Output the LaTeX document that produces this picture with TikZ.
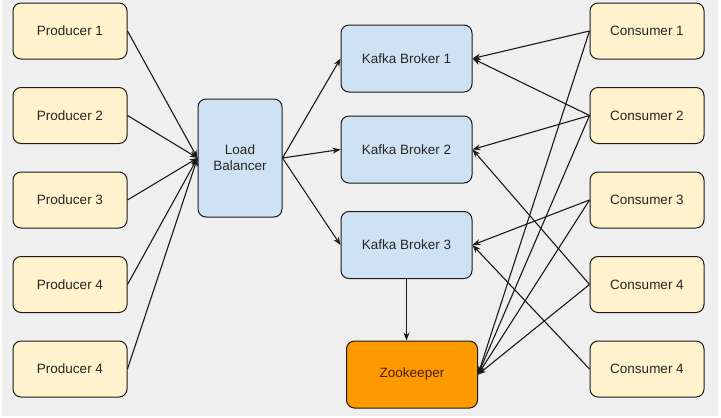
\documentclass[tikz,border=0pt]{standalone}
\usepackage{fontspec}
\setmainfont{Liberation Sans}
\usetikzlibrary{arrows.meta}
\definecolor{bgcol}{HTML}{EFEFEF}
\definecolor{linecol}{HTML}{1A1A1A}
\definecolor{prodfill}{HTML}{FFF2CC}
\definecolor{brokerfill}{HTML}{CFE2F3}
\definecolor{zkfill}{HTML}{FF9900}
\definecolor{zktext}{HTML}{4A1E00}
\begin{document}
\begin{tikzpicture}[x=1pt,y=-1pt,line join=round,>={Stealth[length=8pt,width=6pt]},
	font=\fontsize{13.5}{16}\selectfont,
	box/.style={draw=linecol,line width=1pt,rounded corners=8pt,text=black!85},
	prodbox/.style={box,fill=prodfill,minimum width=114pt,minimum height=56pt},
	brokerbox/.style={box,fill=brokerfill,minimum width=131pt,minimum height=67pt},
	conn/.style={->,draw=linecol,line width=1.1pt}]
		\useasboundingbox (0,0) rectangle (721,418);
		\fill[white] (0,0) rectangle (721,418);
		\fill[bgcol] (2,0) rectangle (718,416);
		% producers and consumers
		\foreach \i/\t in {1/Producer 1,2/Producer 2,3/Producer 3,4/Producer 4,5/Producer 4}
		\node[prodbox] (p\i) at (70,{31+84.5*(\i-1)}) {\t};
		\foreach \i/\t in {1/Consumer 1,2/Consumer 2,3/Consumer 3,4/Consumer 4,5/Consumer 4}
		\node[prodbox] (c\i) at (647,{31+84.5*(\i-1)}) {\t};
		% load balancer, brokers, zookeeper
		\node[brokerbox,minimum width=84pt,minimum height=118pt,align=center] (lb) at (240,158) {Load\\Balancer};
		\foreach \j/\y in {1/58.5,2/149.5,3/245}
		\node[brokerbox] (b\j) at (406.5,\y) {Kafka Broker \j};
		\node[brokerbox,fill=zkfill,text=zktext] (zk) at (412,374.5) {Zookeeper};
		% connectors
		\foreach \i in {1,...,5}
		\draw[conn] (p\i.east) -- (lb.west);
		\foreach \j in {1,2,3}
		\draw[conn] (lb.east) -- (b\j.west);
		\draw[conn] (b3.south) -- (b3.south |- zk.north);
		\foreach \c/\t in {c1/b1,c1/zk,c2/b1,c2/b2,c2/zk,c3/b3,c3/zk,c4/b2,c4/zk,c5/b3}
		\draw[conn] (\c.west) -- (\t.east);
\end{tikzpicture}
\end{document}
